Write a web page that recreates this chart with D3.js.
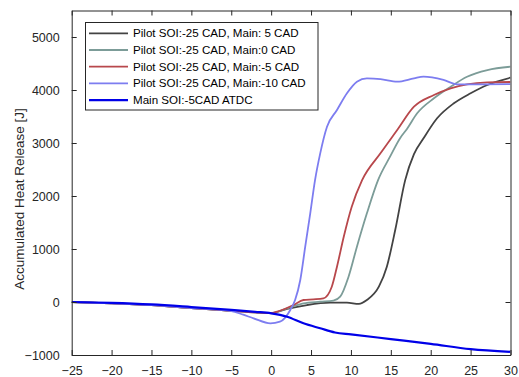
<!DOCTYPE html>
<html><head><meta charset="utf-8">
<script src="https://cdn.jsdelivr.net/npm/d3@7"></script>
<style>
html,body{margin:0;padding:0;background:#fff;}
svg{display:block;font-family:"Liberation Sans",Arial,sans-serif;}
</style></head>
<body><svg id="c" width="519" height="377"></svg>
<script>
// ---- data ----
const xTicks = [-25,-20,-15,-10,-5,0,5,10,15,20,25,30];
const yTicks = [-1000,0,1000,2000,3000,4000,5000];
const seriesNames = [
  "Pilot SOI:-25 CAD, Main: 5 CAD",
  "Pilot SOI:-25 CAD, Main:0 CAD",
  "Pilot SOI:-25 CAD, Main:-5 CAD",
  "Pilot SOI:-25 CAD, Main:-10 CAD",
  "Main SOI:-5CAD ATDC"
];
const seriesColors = ["#434343","#7c9c98","#b8484c","#7d7df0","#0000e8"];

const main5X = [-25,-20,-15,-10,-5,-2,0,2,4.5,7.4,9.5,11.0,12.0,13.5,14.5,15.55,16.8,17.9,19.1,20.8,22.9,25,27.1,30];
const main5Y = [0,-25,-60,-115,-165,-195,-210,-130,-57,-13,-13,-35,38,289,666,1358,2300,2790,3088,3466,3749,3938,4094,4232];

const main0X = [-25,-20,-15,-10,-5,-2,0,2,4.05,6.15,7.8,8.65,9.7,10.75,12.0,13.4,14.9,16.2,17.0,18.3,20.4,22.5,24.55,27.1,30];
const main0Y = [0,-25,-60,-115,-165,-195,-210,-120,-25,6,25,100,477,1043,1673,2300,2742,3100,3260,3560,3843,4062,4250,4377,4440];

const mainM5X = [-25,-20,-15,-10,-5,-2,0,1,2.8,4.05,5.3,6.55,7.6,8.25,9.1,10.1,11.4,13.7,15.8,17.9,20.4,22.5,24.55,27.1,30];
const mainM5Y = [0,-25,-60,-115,-165,-195,-210,-170,-57,38,50,70,289,666,1232,1798,2300,2805,3245,3685,3906,4032,4108,4145,4151];

const mainM10X = [-25,-20,-15,-10,-5,-3.5,-2.2,-0.1,1.1,2.4,3.0,3.65,4.27,4.9,5.5,6.15,7.0,8.25,9.5,10.75,12,13.7,15.8,17.9,19.1,21.6,23.3,26.6,30];
const mainM10Y = [0,-25,-60,-115,-170,-240,-308,-402,-372,-150,38,415,1043,1673,2300,2805,3307,3623,3938,4157,4220,4207,4157,4220,4251,4189,4108,4108,4110];

const soiX = [-25,-20,-15,-10,-5,-2,0,2,4.05,6.15,8,10,15,20,25,30];
const soiY = [0,-15,-45,-95,-150,-185,-213,-277,-402,-496,-575,-610,-700,-790,-890,-940];

const seriesX = [main5X, main0X, mainM5X, mainM10X, soiX];
const seriesY = [main5Y, main0Y, mainM5Y, mainM10Y, soiY];

// ---- layout ----
const svg = d3.select("#c");
const L = 71.7, R = 510.5, T = 10.5, B = 355;
const x = d3.scaleLinear().domain([-25,30]).range([L,R]);
const y = d3.scaleLinear().domain([-1000,5500]).range([B,T]);
const axisColor = "#262626";
const fs = "12.5px";

// curves (clip to plot)
svg.append("clipPath").attr("id","clip").append("rect")
  .attr("x",L).attr("y",T).attr("width",R-L).attr("height",B-T);
const line = d3.line().x(d=>x(d[0])).y(d=>y(d[1])).curve(d3.curveMonotoneX);
const g = svg.append("g").attr("clip-path","url(#clip)");
seriesX.forEach((xs,i)=>{
  const pts = xs.map((v,j)=>[v, seriesY[i][j]]);
  g.append("path").attr("d", line(pts)).attr("fill","none")
    .attr("stroke", seriesColors[i]).attr("stroke-width", i===4 ? 2.2 : 1.8)
    .attr("stroke-linejoin","round");
});

// axes box
const axB = svg.append("g").attr("transform",`translate(0,${B})`)
  .call(d3.axisBottom(x).tickValues(xTicks).tickSizeInner(-5).tickSizeOuter(0).tickPadding(11).tickFormat(d3.format("d")));
const axT = svg.append("g").attr("transform",`translate(0,${T})`)
  .call(d3.axisTop(x).tickValues(xTicks).tickSizeInner(-5).tickSizeOuter(0).tickFormat(""));
const axL = svg.append("g").attr("transform",`translate(${L},0)`)
  .call(d3.axisLeft(y).tickValues(yTicks).tickSizeInner(-5).tickSizeOuter(0).tickPadding(12).tickFormat(d3.format("d")));
const axR = svg.append("g").attr("transform",`translate(${R},0)`)
  .call(d3.axisRight(y).tickValues(yTicks).tickSizeInner(-5).tickSizeOuter(0).tickFormat(""));
[axB,axT,axL,axR].forEach(a=>{
  a.select(".domain").attr("stroke",axisColor);
  a.selectAll(".tick line").attr("stroke",axisColor);
  a.selectAll("text").attr("fill","#262626").style("font-size",fs)
   .style("font-family","'Liberation Sans',Arial,sans-serif");
});
axB.selectAll("text").attr("dy","0.71em");

// y label
svg.append("text").attr("transform",`translate(24,${199}) rotate(-90)`)
  .attr("text-anchor","middle").attr("fill","#262626").style("font-size","13.5px")
  .text("Accumulated Heat Release [J]");

// legend
const lg = svg.append("g");
lg.append("rect").attr("x",85.5).attr("y",22.5).attr("width",232.5).attr("height",87.5)
  .attr("fill","#fff").attr("stroke","#262626").attr("stroke-width",1);
seriesNames.forEach((n,i)=>{
  const cy = 33.3 + i*16.7;
  lg.append("line").attr("x1",89).attr("x2",128).attr("y1",cy).attr("y2",cy)
    .attr("stroke",seriesColors[i]).attr("stroke-width", i===4?2.2:1.8);
  lg.append("text").attr("x",133).attr("y",cy).attr("dy","0.35em")
    .attr("fill","#000").style("font-size","11.6px").text(n);
});
</script></body></html>
